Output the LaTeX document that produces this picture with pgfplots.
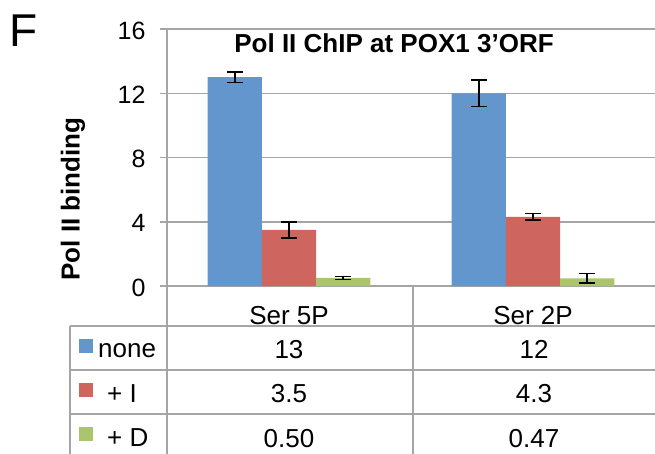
\documentclass[border=0pt]{standalone}
\usepackage{pgfplots}
\pgfplotsset{compat=1.18}
\usepackage{fontspec}
\setmainfont{Liberation Sans}
\definecolor{cblue}{RGB}{99,150,204}
\definecolor{cred}{RGB}{206,102,95}
\definecolor{cgreen}{RGB}{170,197,107}
\definecolor{gridc}{RGB}{165,165,165}
\newcommand{\fs}{\fontsize{25bp}{30bp}\selectfont}
\newcommand{\ft}{\fontsize{26bp}{31bp}\selectfont}
\begin{document}
\begin{tikzpicture}
\path[use as bounding box] (-167bp,-168bp) rectangle (488bp,286bp);
\begin{axis}[
  scale only axis, width=488bp, height=257bp,
  xmin=-0.5, xmax=1.5, ymin=0, ymax=16,
  ytick={0,4,8,12,16},
  xtick={0,1}, xticklabels={Ser 5P, Ser 2P},
  ybar=0pt, bar width=54.2bp,
  axis x line=bottom, axis y line=left,
  axis line style={-, gridc, line width=1.5bp},
  ymajorgrids, grid style={gridc, line width=1.5bp},
  tick align=outside, major tick length=7bp,
  major x tick style={draw=none},
  y tick style={gridc, line width=1.5bp},
  tick label style={font=\fs},
  yticklabel style={xshift=-11bp, yshift=-1.5bp},
  /pgf/number format/assume math mode=true,
  xticklabel style={font=\ft, anchor=base, yshift=-31bp},
  clip=false,
]
\addplot[fill=cblue, draw=none, error bars/.cd, y dir=both, y explicit,
  error bar style={black, line width=1.7bp},
  error mark options={black, rotate=90, mark size=8bp, line width=1.7bp}]
  table[x=x, y=y, y error=e] {
  x y e
  0 13 0.33
  1 12 0.83
};
\addplot[fill=cred, draw=none, error bars/.cd, y dir=both, y explicit,
  error bar style={black, line width=1.7bp},
  error mark options={black, rotate=90, mark size=8bp, line width=1.7bp}]
  table[x=x, y=y, y error=e] {
  x y e
  0 3.5 0.5
  1 4.3 0.21
};
\addplot[fill=cgreen, draw=none, error bars/.cd, y dir=both, y explicit,
  error bar style={black, line width=1.7bp},
  error mark options={black, rotate=90, mark size=8bp, line width=1.7bp}]
  table[x=x, y=y, y error=e] {
  x y e
  0 0.50 0.10
  1 0.47 0.30
};
\end{axis}
% data table grid
\begin{scope}[gridc, line width=1.5bp]
\draw (-97bp,-40bp) -- (488bp,-40bp);
\draw (-97bp,-84bp) -- (488bp,-84bp);
\draw (-97bp,-128bp) -- (488bp,-128bp);
\draw (-97bp,-40bp) -- (-97bp,-170bp);
\draw (0bp,0bp) -- (0bp,-170bp);
\draw (246bp,0bp) -- (246bp,-170bp);
\end{scope}
% legend keys
\fill[cblue] (-88bp,-53bp) rectangle (-74bp,-67bp);
\fill[cred] (-88bp,-97bp) rectangle (-74bp,-111bp);
\fill[cgreen] (-88bp,-141bp) rectangle (-74bp,-155bp);
\begin{scope}[every node/.style={inner sep=0pt, font=\ft}]
\node[anchor=base west] at (-69bp,-71bp) {none};
\node[anchor=base west] at (-60bp,-116bp) {+ I};
\node[anchor=base west] at (-60bp,-160bp) {+ D};
\node[anchor=base] at (122bp,-72bp) {13};
\node[anchor=base] at (367bp,-72bp) {12};
\node[anchor=base] at (122bp,-116bp) {3.5};
\node[anchor=base] at (367bp,-116bp) {4.3};
\node[anchor=base] at (122bp,-161bp) {0.50};
\node[anchor=base] at (367bp,-161bp) {0.47};
\node[font=\ft\bfseries] at (227bp,243bp) {Pol II ChIP at POX1 3’ORF};
\node[font=\ft\bfseries, rotate=90] at (-94bp,87bp) {Pol II binding};
\node[font=\fontsize{46bp}{50bp}\selectfont] at (-143bp,255bp) {F};
\end{scope}
\end{tikzpicture}
\end{document}
